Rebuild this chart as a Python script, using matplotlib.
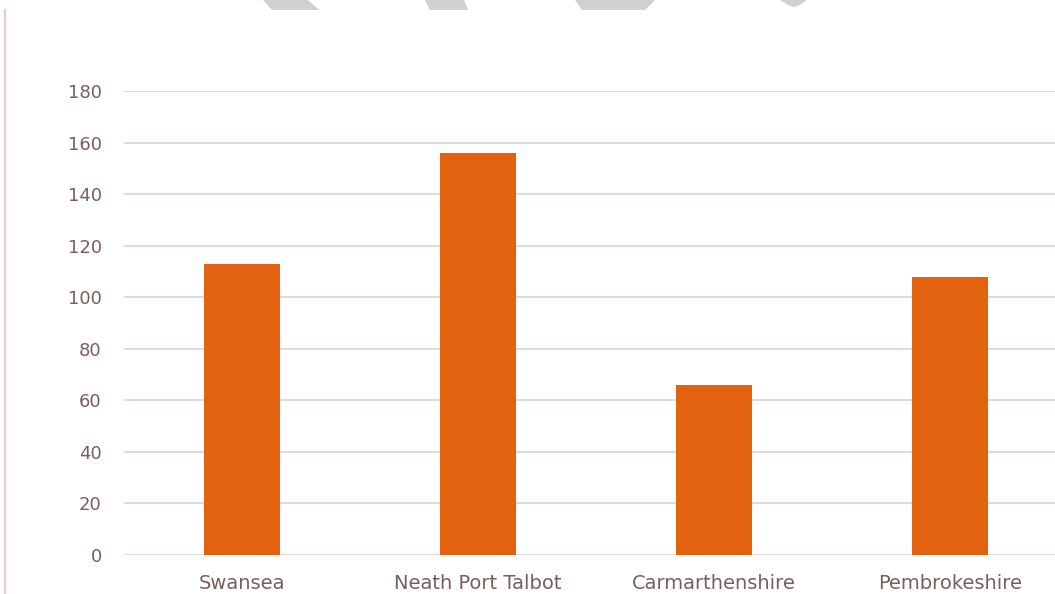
import matplotlib.pyplot as plt
from matplotlib.patches import Polygon
from matplotlib.lines import Line2D

categories = ["Swansea", "Neath Port Talbot", "Carmarthenshire", "Pembrokeshire"]
values = [113, 156, 66, 108]
yticks = [0, 20, 40, 60, 80, 100, 120, 140, 160, 180]

BAR_COLOR = "#e36210"
GRID_COLOR = "#e2d4d4"
TEXT_COLOR = "#7a5e5e"

plt.rcParams["font.family"] = ["DejaVu Sans"]

W, H = 1055, 594
fig = plt.figure(figsize=(W / 100, H / 100), dpi=100)

# plot area (extends slightly past right edge, as in the reference)
left, right, top, bottom = 124, 1068, 91, 555
ax = fig.add_axes([left / W, (H - bottom) / H, (right - left) / W, (bottom - top) / H])

x = list(range(len(categories)))
ax.bar(x, values, width=0.32, color=BAR_COLOR, zorder=3)
ax.set_xlim(-0.5, len(categories) - 0.5)
ax.set_ylim(0, 180)
ax.set_yticks(yticks)
ax.set_xticks(x)
ax.set_xticklabels(categories)

ax.grid(axis="y", color=GRID_COLOR, linewidth=1.3, zorder=0)
for s in ax.spines.values():
    s.set_visible(False)
ax.tick_params(axis="both", length=0, colors=TEXT_COLOR)
ax.tick_params(axis="y", pad=16, labelsize=13)
ax.tick_params(axis="x", pad=14, labelsize=14)

# left border line of the slide frame
fig.add_artist(Line2D([4.5 / W, 4.5 / W], [0, 1 - 10 / H], color="#e2cccc", linewidth=1.5))

# grey watermark fragments at the top edge
def px(pts):
    return [(a / W, 1 - b / H) for a, b in pts]

wm = "#d0d0d0"
shapes = [
    [(263, 0), (308, 0), (319, 10), (272, 10)],
    [(425, 0), (464, 0), (468, 10), (430, 10)],
    [(575, 0), (655, 0), (645, 10), (582, 10)],
    [(780, 0), (807, 0), (800, 5), (794, 7), (788, 5)],
]
for sh in shapes:
    fig.add_artist(Polygon(px(sh), closed=True, color=wm, lw=0))

fig.savefig("out.png", dpi=100)
